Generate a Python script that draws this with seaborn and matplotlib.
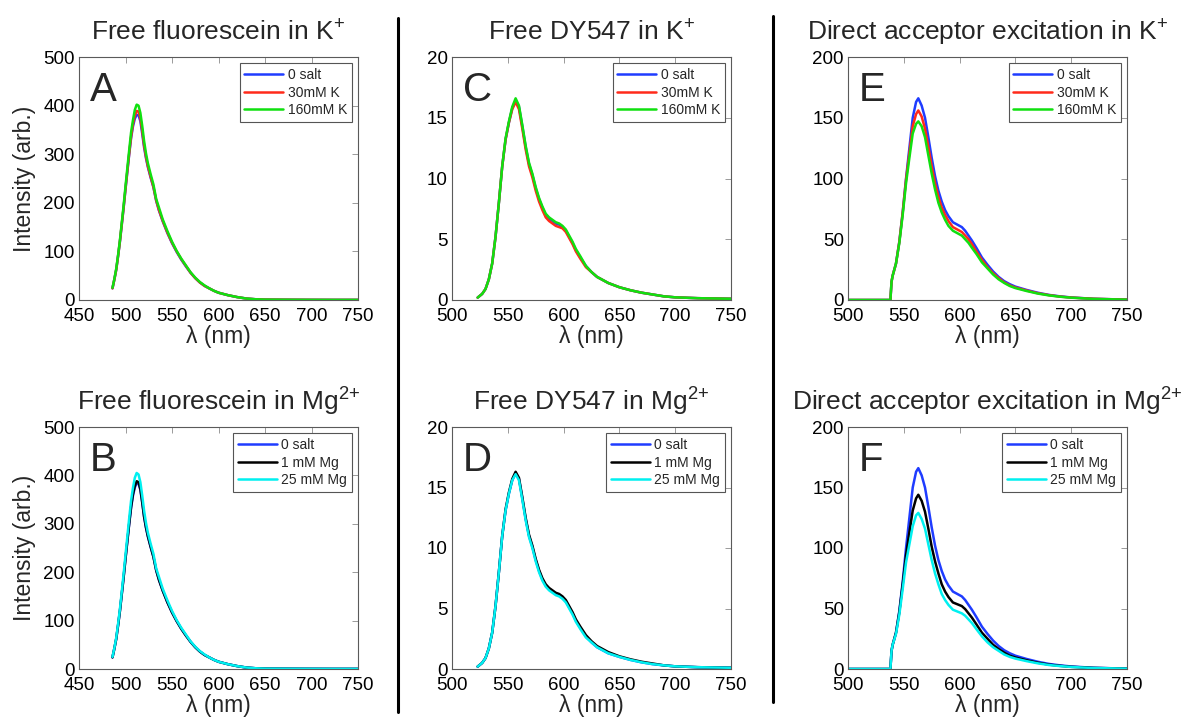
import matplotlib
matplotlib.use('Agg')
import matplotlib.pyplot as plt
from matplotlib.lines import Line2D
import seaborn as sns

# ---------------- data ----------------
wl_fl = [486, 488, 490, 492, 494, 496, 498, 500, 502, 504, 506, 508, 510, 512, 514, 516,
         518, 520, 522, 524, 527, 530, 533, 536, 540, 545, 550, 555, 560, 565, 570, 575,
         580, 585, 590, 595, 600, 610, 620, 630, 640, 650, 675, 700, 725, 750]
A_0salt = [24, 42, 62, 90, 120, 155, 190, 228, 264, 300, 333, 357, 373, 381, 380, 368,
           342, 314, 292, 274, 252, 232, 204, 184, 162, 138, 117, 99, 83, 69, 56, 45,
           36, 29, 24, 19, 15, 10, 6, 3, 1.5, 0.8, 0.5, 0.3, 0.2, 0.2]
A_30K = [24, 42, 62, 90, 121, 156, 191, 229, 266, 302, 336, 362, 379, 389, 388, 374,
         348, 318, 295, 276, 254, 233, 205, 185, 163, 139, 118, 100, 84, 70, 56, 45,
         36, 29, 24, 19, 15, 10, 6, 3, 1.5, 0.8, 0.5, 0.3, 0.2, 0.2]
A_160K = [25, 43, 64, 92, 123, 159, 195, 234, 272, 309, 345, 370, 391, 402, 400, 385,
          358, 327, 302, 282, 259, 238, 208, 190, 166, 142, 120, 101, 85, 71, 57, 46,
          37, 30, 24, 19, 15, 10, 6, 3, 1.5, 0.8, 0.5, 0.3, 0.2, 0.2]
B_0salt = [24, 42, 62, 90, 120, 155, 190, 228, 264, 300, 333, 358, 375, 384, 383, 370,
           343, 314, 292, 274, 252, 232, 204, 184, 162, 138, 117, 99, 83, 69, 56, 45,
           36, 29, 24, 19, 15, 10, 6, 3, 1.5, 0.8, 0.5, 0.3, 0.2, 0.2]
B_1Mg = [24, 42, 62, 90, 120, 155, 190, 228, 265, 301, 335, 361, 378, 388, 386, 372,
         345, 315, 293, 275, 253, 232, 204, 184, 162, 138, 117, 99, 83, 69, 56, 45,
         36, 29, 24, 19, 15, 10, 6, 3, 1.5, 0.8, 0.5, 0.3, 0.2, 0.2]
B_25Mg = [25, 43, 64, 93, 124, 160, 197, 236, 274, 312, 348, 374, 395, 405, 402, 386,
          358, 327, 302, 282, 259, 238, 208, 190, 166, 142, 120, 101, 85, 71, 57, 46,
          37, 30, 24, 19, 15, 10, 6, 3, 1.5, 0.8, 0.5, 0.3, 0.2, 0.2]

wl_dy = [523, 527, 530, 533, 536, 539, 542, 545, 548, 551, 554, 557, 560, 563, 566, 569,
         572, 575, 578, 581, 584, 587, 590, 593, 596, 599, 602, 605, 608, 611, 615, 620,
         625, 630, 640, 650, 660, 670, 680, 690, 700, 720, 750]
C_0salt = [0.2, 0.5, 0.9, 1.7, 3.0, 5.2, 8.0, 11.0, 13.2, 14.6, 15.8, 16.4, 15.9, 14.3, 12.6, 11.2,
           10.3, 9.2, 8.3, 7.6, 7.0, 6.7, 6.5, 6.3, 6.2, 6.0, 5.7, 5.2, 4.7, 4.1, 3.5, 2.8,
           2.3, 1.9, 1.4, 1.05, 0.8, 0.6, 0.45, 0.3, 0.22, 0.15, 0.1]
C_30K = [0.2, 0.5, 0.9, 1.7, 3.0, 5.2, 8.0, 11.0, 13.2, 14.6, 15.7, 16.3, 15.7, 14.1, 12.4, 11.0,
         10.1, 9.0, 8.1, 7.4, 6.8, 6.5, 6.3, 6.1, 6.0, 5.9, 5.6, 5.1, 4.6, 4.0, 3.4, 2.7,
         2.3, 1.9, 1.4, 1.05, 0.8, 0.6, 0.45, 0.3, 0.22, 0.15, 0.1]
C_160K = [0.2, 0.5, 0.9, 1.7, 3.0, 5.2, 8.0, 11.0, 13.3, 14.7, 15.9, 16.6, 16.0, 14.4, 12.7, 11.3,
          10.4, 9.3, 8.4, 7.7, 7.1, 6.8, 6.6, 6.4, 6.3, 6.1, 5.8, 5.3, 4.8, 4.2, 3.6, 2.8,
          2.3, 1.9, 1.4, 1.05, 0.8, 0.6, 0.45, 0.3, 0.22, 0.15, 0.1]
D_0salt = [0.2, 0.5, 0.9, 1.7, 3.0, 5.2, 8.0, 11.0, 13.1, 14.5, 15.6, 16.2, 15.7, 14.1, 12.4, 11.0,
           10.1, 9.0, 8.1, 7.4, 6.9, 6.6, 6.4, 6.2, 6.1, 5.9, 5.6, 5.1, 4.6, 4.0, 3.4, 2.7,
           2.2, 1.8, 1.3, 1.0, 0.75, 0.55, 0.4, 0.3, 0.22, 0.15, 0.1]
D_1Mg = [0.2, 0.5, 0.9, 1.7, 3.0, 5.2, 8.0, 11.0, 13.2, 14.6, 15.7, 16.3, 15.8, 14.2, 12.5, 11.1,
         10.2, 9.1, 8.2, 7.5, 7.0, 6.7, 6.5, 6.3, 6.2, 6.0, 5.7, 5.2, 4.7, 4.1, 3.5, 2.8,
         2.3, 1.9, 1.4, 1.05, 0.8, 0.6, 0.45, 0.3, 0.22, 0.15, 0.1]
D_25Mg = [0.2, 0.5, 0.9, 1.7, 3.0, 5.2, 8.0, 11.0, 13.1, 14.5, 15.6, 16.1, 15.6, 14.0, 12.3, 10.9,
          10.0, 8.9, 8.0, 7.3, 6.8, 6.5, 6.3, 6.1, 6.0, 5.8, 5.5, 5.0, 4.5, 3.9, 3.3, 2.6,
          2.2, 1.8, 1.3, 1.0, 0.75, 0.55, 0.4, 0.3, 0.22, 0.15, 0.1]

wl_acc = [500, 520, 538, 539, 540, 543, 546, 549, 552, 555, 558, 561, 563, 566, 569, 572,
          575, 578, 581, 584, 587, 590, 594, 598, 602, 605, 608, 611, 615, 620, 625, 630,
          635, 640, 645, 650, 660, 670, 680, 690, 700, 720, 750]
E_0salt = [0, 0, 0, 15, 20, 30, 48, 72, 100, 125, 150, 163, 166, 160, 150, 134,
           117, 102, 90, 81, 74, 69, 64, 62, 60, 57, 53, 49, 43, 35, 29, 23.5,
           19, 15.5, 13, 11, 8.3, 6, 4.2, 3, 2.1, 1.0, 0.3]
E_30K = [0, 0, 0, 15, 20, 30, 48, 72, 99, 121, 143, 153, 156, 151, 141, 126,
         110, 96, 85, 76, 70, 65, 60, 58, 56, 53, 50, 46, 40, 33, 27, 22,
         18, 14.5, 12, 10.3, 7.8, 5.6, 4, 2.8, 2, 1, 0.3]
E_160K = [0, 0, 0, 15, 20, 30, 47, 70, 96, 117, 137, 145, 147, 143, 134, 119,
          104, 91, 80, 72, 66, 61, 57, 55, 53, 50, 47, 43, 38, 31, 26, 21,
          17, 14, 11.5, 9.8, 7.4, 5.3, 3.8, 2.7, 1.9, 0.9, 0.3]
F_0salt = [0, 0, 0, 15, 20, 30, 48, 72, 100, 125, 150, 163, 166, 160, 150, 134,
           117, 102, 90, 81, 74, 69, 64, 62, 60, 57, 53, 49, 43, 35, 29, 23.5,
           19, 15.5, 13, 11, 8.3, 6, 4.2, 3, 2.1, 1.0, 0.3]
F_1Mg = [0, 0, 0, 15, 20, 30, 47, 70, 94, 113, 131, 141, 144, 139, 130, 116,
         101, 89, 79, 70, 64, 59.5, 55, 53.5, 52, 49.5, 46, 42.5, 37, 30, 25, 20,
         16.5, 13.5, 11, 9.5, 7.2, 5.2, 3.6, 2.6, 1.8, 0.9, 0.3]
F_25Mg = [0, 0, 0, 15, 20, 29, 45, 66, 88, 103, 118, 127, 129, 124, 116, 103,
          90, 79, 70, 62, 57, 53, 49, 47.5, 46, 44, 41, 38, 33, 27, 22, 18,
          15, 12, 10, 8.6, 6.5, 4.7, 3.3, 2.4, 1.7, 0.8, 0.3]

labels_K = ['0 salt', '30mM K', '160mM K']
labels_Mg = ['0 salt', '1 mM Mg', '25 mM Mg']
colors_K = ['#1f3cff', '#ff2a1a', '#10e010']
colors_Mg = ['#1f3cff', '#000000', '#00f0f0']

titles = ['Free fluorescein in K$^{+}$', 'Free fluorescein in Mg$^{2{+}}$',
          'Free DY547 in K$^{+}$', 'Free DY547 in Mg$^{2{+}}$',
          'Direct acceptor excitation in K$^{+}$', 'Direct acceptor excitation in Mg$^{2{+}}$']
letters = ['A', 'B', 'C', 'D', 'E', 'F']
xticks_fl = [450, 500, 550, 600, 650, 700, 750]
xticks_other = [500, 550, 600, 650, 700, 750]
yticks_fl = [0, 100, 200, 300, 400, 500]
yticks_dy = [0, 5, 10, 15, 20]
yticks_acc = [0, 50, 100, 150, 200]

# ---------------- style ----------------
sns.set_style('white')
plt.rcParams['font.family'] = ['Liberation Sans', 'DejaVu Sans']
plt.rcParams['mathtext.fontset'] = 'custom'
plt.rcParams['mathtext.rm'] = 'Liberation Sans'
plt.rcParams['mathtext.it'] = 'Liberation Sans:italic'
plt.rcParams['mathtext.bf'] = 'Liberation Sans:bold'

W, H = 1185, 721
fig = plt.figure(figsize=(W / 100, H / 100), dpi=100)
fig.patch.set_facecolor('white')


def add_ax(l, t, r, b):
    return fig.add_axes([l / W, 1 - b / H, (r - l) / W, (b - t) / H])


panels = [
    # (pos, wl, series, labels, colors, xticks, yticks, ylabel)
    ((79, 57, 358, 300), wl_fl, [A_0salt, A_30K, A_160K], labels_K, colors_K, xticks_fl, yticks_fl, True),
    ((79, 427, 358, 669), wl_fl, [B_0salt, B_1Mg, B_25Mg], labels_Mg, colors_Mg, xticks_fl, yticks_fl, True),
    ((452, 57, 731, 300), wl_dy, [C_0salt, C_30K, C_160K], labels_K, colors_K, xticks_other, yticks_dy, False),
    ((452, 427, 731, 669), wl_dy, [D_0salt, D_1Mg, D_25Mg], labels_Mg, colors_Mg, xticks_other, yticks_dy, False),
    ((848, 57, 1127, 300), wl_acc, [E_0salt, E_30K, E_160K], labels_K, colors_K, xticks_other, yticks_acc, False),
    ((848, 427, 1127, 669), wl_acc, [F_0salt, F_1Mg, F_25Mg], labels_Mg, colors_Mg, xticks_other, yticks_acc, False),
]

for i, (pos, wl, series, labs, cols, xt, yt, has_ylab) in enumerate(panels):
    ax = add_ax(*pos)
    for vals, lab, col in zip(series, labs, cols):
        sns.lineplot(x=wl, y=vals, ax=ax, color=col, lw=1.8, label=lab,
                     sort=False, estimator=None)
    ax.set_xlim(xt[0], xt[-1])
    ax.set_ylim(yt[0], yt[-1])
    ax.set_xticks(xt)
    ax.set_yticks(yt)
    ax.tick_params(direction='in', length=4, width=0.6, color='#8a8a8a',
                   top=True, right=True, labelsize=13.5, labelcolor='black')
    ax.tick_params(axis='x', pad=6)
    ax.tick_params(axis='y', pad=3)
    for sp in ax.spines.values():
        sp.set_color('#5a5a5a')
        sp.set_linewidth(0.8)
    ax.set_xlabel('λ (nm)', fontsize=16.5, labelpad=0)
    if has_ylab:
        ax.set_ylabel('Intensity (arb.)', fontsize=16.5, labelpad=5)
    else:
        ax.set_ylabel('')
    ax.set_title(titles[i], fontsize=19, pad=12)
    ax.text(0.04, 0.82, letters[i], transform=ax.transAxes, fontsize=29,
            ha='left', va='baseline')
    leg = ax.legend(loc='upper right', fontsize=10, frameon=True, fancybox=False,
                    edgecolor='#555555', framealpha=1, handlelength=2.8,
                    borderaxespad=0.45, borderpad=0.35, labelspacing=0.25,
                    handletextpad=0.3)
    leg.get_frame().set_linewidth(0.8)

# vertical separators between columns
fig.add_artist(Line2D([398 / W, 398 / W], [1 - 18 / H, 1 - 712 / H], color='black', lw=2.2,
                      transform=fig.transFigure))
fig.add_artist(Line2D([773 / W, 773 / W], [1 - 16 / H, 1 - 702 / H], color='black', lw=2.2,
                      transform=fig.transFigure))

fig.savefig('out.png', dpi=100, facecolor='white')
